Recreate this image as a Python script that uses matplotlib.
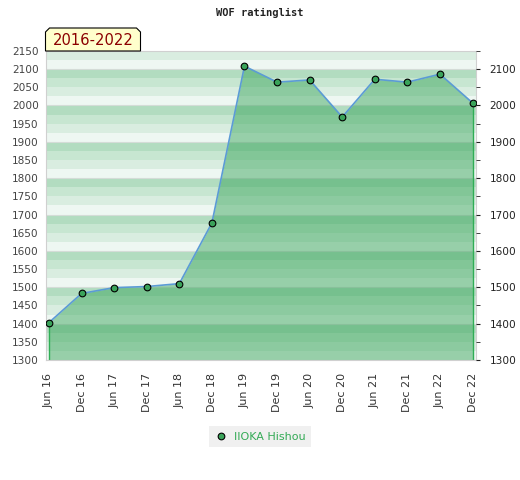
import numpy as np
import matplotlib.pyplot as plt
from matplotlib.patches import Polygon
from matplotlib.ticker import MultipleLocator

# rating history, half-year snapshots
periods = ['Jun 16', 'Dec 16', 'Jun 17', 'Dec 17', 'Jun 18', 'Dec 18', 'Jun 19',
           'Dec 19', 'Jun 20', 'Dec 20', 'Jun 21', 'Dec 21', 'Jun 22', 'Dec 22']
ratings = [1403, 1483, 1499, 1502, 1510, 1677, 2108,
           2064, 2070, 1968, 2072, 2064, 2086, 2007]
player = 'IIOKA Hishou'
title = 'WOF ratinglist'
span_label = '2016-2022'

y_min, y_max = 1300, 2150

fig = plt.figure(figsize=(5.2, 4.8), dpi=100)
ax = fig.add_axes([0.088, 0.25, 0.827, 0.644])

# striped background: 4 shades repeated every 100 points
stripe_colors = ['#eef7f2', '#d9ede0', '#c7e6d1', '#b2dcc0']
for lo in range(y_min, y_max, 25):
    ax.axhspan(lo, lo + 25, color=stripe_colors[(lo // 25) % 4], lw=0, zorder=0)
for g in range(y_min, y_max + 1, 100):
    ax.axhline(g, color='#d4dcd7', lw=0.8, zorder=0.5)

x = np.arange(len(ratings))
ax.fill_between(x, ratings, y_min, color='#2ea052', alpha=0.45, lw=0, zorder=1)
ax.plot([x[0], x[0]], [y_min, ratings[0]], color='#2fae55', lw=1, zorder=2)
ax.plot([x[-1], x[-1]], [y_min, ratings[-1]], color='#2fae55', lw=1, zorder=2)
ax.plot(x, ratings, color='#5b9bd5', lw=1.2, zorder=3,
        marker='o', markersize=4.8, markerfacecolor='#3aa35a',
        markeredgecolor='black', markeredgewidth=0.8, label=player)

ax.set_xlim(-0.1, len(ratings) - 1 + 0.1)
ax.set_ylim(y_min, y_max)
ax.set_xticks(x)
ax.set_xticklabels(periods, rotation=90, fontsize=8, color='#333333')
ax.set_yticks(np.arange(y_min, y_max + 1, 50))
ax.tick_params(axis='y', labelsize=7.6, colors='#444444', length=0, pad=5)
ax.tick_params(axis='x', length=0, pad=9)
for s in ax.spines.values():
    s.set_color('#d0d0d0')

# right axis with coarser labels
ax2 = ax.twinx()
ax2.set_ylim(y_min, y_max)
ax2.set_yticks(np.arange(y_min, 2101, 100))
ax2.yaxis.set_minor_locator(MultipleLocator(50))
ax2.tick_params(axis='y', which='major', labelsize=7.6, colors='#222222', length=3, pad=7)
ax2.tick_params(axis='y', which='minor', colors='#222222', length=3)
for s in ax2.spines.values():
    s.set_visible(False)

fig.text(0.5, 1 - 13 / 480, title, ha='center', va='center',
         family='DejaVu Sans Mono', fontsize=7.5, weight='bold', color='#222222')

# period tag with clipped top corners
W, H = 520, 480
bx0, bx1, by0, by1, c = 45.5, 140.5, 28, 51, 4
pts = [(bx0, by1), (bx0, by0 + c), (bx0 + c, by0), (bx1 - c, by0),
       (bx1, by0 + c), (bx1, by1)]
tag = Polygon([(px / W, 1 - py / H) for px, py in pts], closed=True,
              transform=fig.transFigure, facecolor='#ffffcc',
              edgecolor='black', lw=0.8, zorder=5)
fig.patches.append(tag)
fig.text((bx0 + bx1) / 2 / W, 1 - 40.5 / H, span_label, ha='center', va='center',
         fontsize=10.6, color='#8b0000', zorder=6)

leg = fig.legend(loc='center', bbox_to_anchor=(0.5, 1 - 436.7 / H),
                 frameon=True, facecolor='#f0f0f0', edgecolor='none',
                 fancybox=False, fontsize=8, labelcolor='#33aa55',
                 handlelength=1.2, handletextpad=0.6, borderpad=0.5)
for h in leg.legend_handles:
    h.set_linestyle('none')
leg.get_frame().set_alpha(1)

fig.savefig('out.png', dpi=100)
